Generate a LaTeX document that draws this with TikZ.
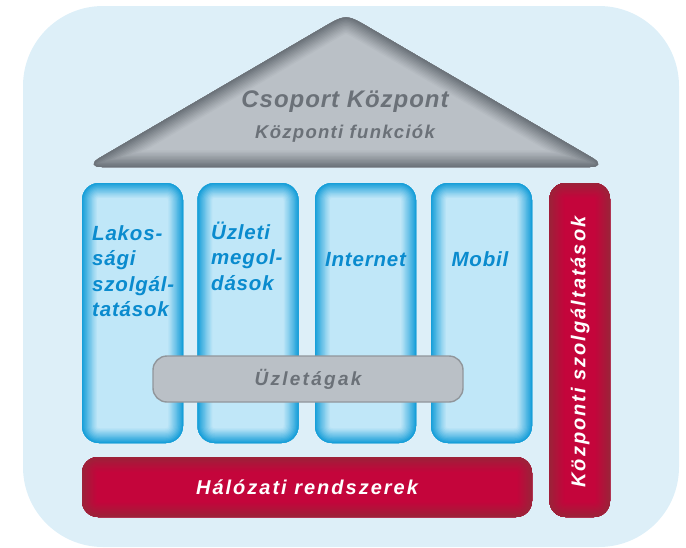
\documentclass[tikz,border=0pt]{standalone}
\usepackage{fontspec}
\setmainfont{Liberation Sans}
\usepackage{tikz}

\definecolor{bgblue}{HTML}{DDEFF8}
\definecolor{pillaredge}{HTML}{179FD9}
\definecolor{pillarfill}{HTML}{C0E7F8}
\definecolor{pillartext}{HTML}{0A8BCE}
\definecolor{roofedge}{HTML}{6C737A}
\definecolor{rooffill}{HTML}{BAC0C6}
\definecolor{rooftext}{HTML}{6B7178}
\definecolor{rededge}{HTML}{9C2239}
\definecolor{redfill}{HTML}{C4053B}

\tikzset{
  glass/.style n args={3}{fill=#2, rounded corners=#3,
    path picture={
      \foreach \k [evaluate=\k as \w using 32-2.5*\k,
                   evaluate=\k as \p using 100*(\k/12)^1.1] in {0,...,12}
        \draw[#1!\p!#2, line width=\w pt, rounded corners=#3]
          (path picture bounding box.north west) rectangle
          (path picture bounding box.south east);
    }},
  pillar/.style={glass={pillaredge}{pillarfill}{17pt}, minimum width=101pt,
    minimum height=260pt, inner sep=0pt},
  pillartitle/.style={font=\bfseries\itshape\fontsize{20.5}{25.5}\selectfont
    \addfontfeatures{LetterSpace=4}, text=pillartext, inner sep=0pt, align=left},
  redbar/.style={glass={rededge}{redfill}{16pt}, inner sep=0pt},
  redtitle/.style={text=white, inner sep=0pt,
    font=\bfseries\itshape\fontsize{20}{24}\selectfont\addfontfeatures{LetterSpace=10}},
  roofcaption/.style={text=rooftext, anchor=base, inner sep=0pt},
}

\begin{document}
\begin{tikzpicture}[x=1pt, y=-1pt]
    \useasboundingbox (0,0) rectangle (686,547);

    % Background
    \node[fill=bgblue, rounded corners=80pt, minimum width=656pt,
      minimum height=541pt, inner sep=0pt] (frame) at (351,276.5) {};

    % Roof
    \coordinate (roofL) at (84,167);
    \coordinate (apexL) at (307.1,36.7);
    \coordinate (roofT) at (346,14);
    \coordinate (apexR) at (384.9,36.7);
    \coordinate (roofR) at (608,167);
    \begin{scope}
        \clip[rounded corners=18pt] (roofL) -- (apexL) .. controls (roofT) .. (apexR) -- (roofR) -- cycle;
        \fill[rooffill] (roofL) -- (roofT) -- (roofR) -- cycle;
        \foreach \k [evaluate=\k as \w using 36-2.8*\k,
                     evaluate=\k as \p using 100*(\k/12)^1.1] in {0,...,12}
            \draw[roofedge!\p!rooffill, line width=\w pt, rounded corners=18pt]
              (roofL) -- (apexL) .. controls (roofT) .. (apexR) -- (roofR) -- cycle;
    \end{scope}
    \node[roofcaption, font=\bfseries\itshape\fontsize{24}{28}\selectfont\addfontfeatures{LetterSpace=4}]
      (group) at (345,107) {Csoport Központ};
    \node[roofcaption, font=\bfseries\itshape\fontsize{18.5}{22}\selectfont\addfontfeatures{LetterSpace=7}]
      (functions) at (345,138) {Központi funkciók};

    % Pillars
    \node[pillar] (retail) at (132.5,313) {};
    \node[pillar] (business) at (248,313) {};
    \node[pillar] (internet) at (365.5,313) {};
    \node[pillar] (mobile) at (481.5,313) {};

    \node[pillartitle, anchor=north west] (retailtxt) at (92,225) {Lakos-\\sági\\szolgál-\\tatások};
    \node[pillartitle, anchor=north west] (businesstxt) at (211,221.5) {Üzleti\\megol-\\dások};
    \node[pillartitle, anchor=base] (internettxt) at (365.5,266.7) {Internet};
    \node[pillartitle, anchor=base] (mobiletxt) at (480,266.7) {Mobil};

    % Business lines
    \node[fill=rooffill, draw=roofedge!75, line width=1.4pt, rounded corners=14pt,
      minimum width=310pt, minimum height=46pt, text=rooftext,
      font=\bfseries\itshape\fontsize{19}{22}\selectfont\addfontfeatures{LetterSpace=12}]
      (branches) at (308,379) {Üzletágak};

    % Network and central services
    \node[redbar, redtitle, minimum width=450pt, minimum height=60pt] (network) at (307,487) {Hálózati rendszerek};
    \node[redbar, minimum width=60.5pt, minimum height=334pt] (central) at (579.75,350) {};
    \node[redtitle, rotate=90] (centraltxt) at (580,352) {Központi szolgáltatások};
\end{tikzpicture}
\end{document}
